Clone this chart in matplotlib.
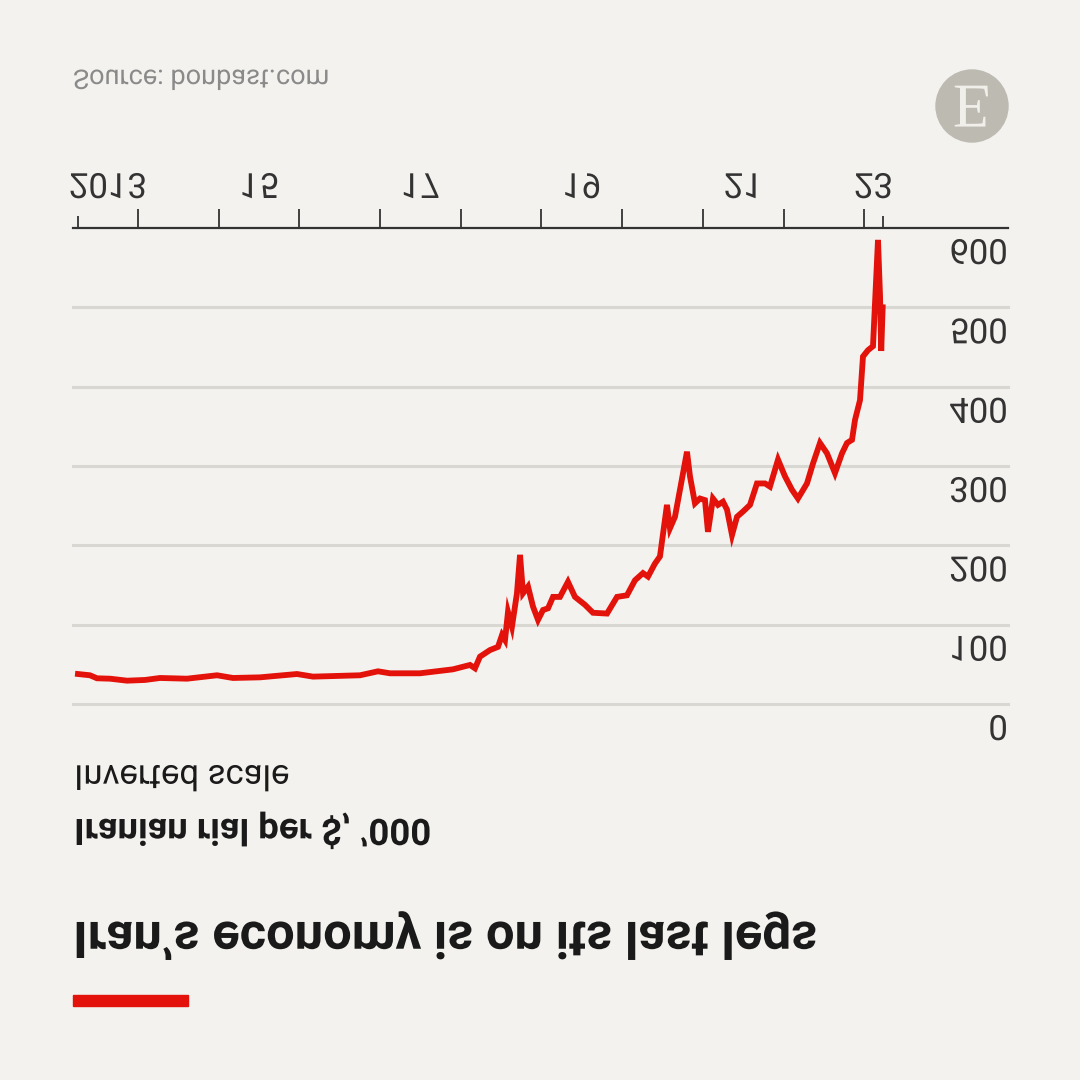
import matplotlib
matplotlib.use("Agg")
import matplotlib.pyplot as plt
from matplotlib import patheffects
from matplotlib.transforms import Affine2D, offset_copy
from matplotlib.patches import Circle, Rectangle

# rial per dollar, '000 (open market)
dates = [2013.256, 2013.405, 2013.492, 2013.653, 2013.864, 2014.087, 2014.273,
         2014.607, 2014.979, 2015.177, 2015.512, 2015.970, 2016.169, 2016.751,
         2016.974, 2017.123, 2017.494, 2017.903, 2018.114, 2018.176, 2018.238,
         2018.362, 2018.461, 2018.511, 2018.548, 2018.585, 2018.634, 2018.696,
         2018.734, 2018.771, 2018.833, 2018.895, 2018.957, 2019.019, 2019.081,
         2019.143, 2019.229, 2019.328, 2019.415, 2019.539, 2019.638, 2019.812,
         2019.936, 2020.059, 2020.159, 2020.258, 2020.320, 2020.406, 2020.468,
         2020.555, 2020.592, 2020.654, 2020.716, 2020.803, 2020.840, 2020.902,
         2020.964, 2021.026, 2021.063, 2021.125, 2021.187, 2021.249, 2021.299,
         2021.361, 2021.423, 2021.497, 2021.584, 2021.670, 2021.770, 2021.831,
         2021.931, 2022.017, 2022.104, 2022.178, 2022.290, 2022.364, 2022.451,
         2022.538, 2022.637, 2022.724, 2022.786, 2022.848, 2022.885, 2022.947,
         2022.984, 2023.046, 2023.108, 2023.170, 2023.195, 2023.210, 2023.228]
rial = [37.8, 36.2, 32.4, 31.9, 29.4, 30.3, 32.8,
        31.9, 36.2, 32.8, 33.6, 37.8, 34.5, 36.2,
        41.2, 38.7, 38.7, 43.7, 49.2, 45.0, 59.7,
        68, 72, 87, 80.7, 116, 97.5, 139.6,
        188, 139.6, 148, 122.7, 106, 118.5, 120.6,
        135, 135, 154, 135, 125, 115, 114,
        135, 137, 156, 165, 160.6, 177, 186,
        251, 221.5, 236, 270, 318, 287, 253,
        259, 257, 217, 259, 251, 255, 245,
        213, 236, 242.6, 251, 278, 278, 274,
        308, 287, 270, 259, 278, 303, 329,
        316, 291, 316, 329, 333, 358, 383,
        438, 446, 451, 585, 515, 445, 500]

grid_vals = [0, 100, 200, 300, 400, 500]
ylabels = ["0", "100", "200", "300", "400", "500", "600"]
year_ticks = list(range(2014, 2024))
label_years = [2013, 2015, 2017, 2019, 2021, 2023]
year_labels = ["2013", "15", "17", "19", "21", "23"]

title = "Iran’s economy is on its last legs"
subtitle = "Iranian rial per $, ’000"
note = "Inverted scale"
source = "Source: bonbast.com"

BG = "#F4F2EE"
RED = "#E3120B"
INK = "#1A1A1A"
GREY = "#333333"


# the picture is upside down, so every glyph is drawn mirrored top to bottom
class Flip(patheffects.AbstractPathEffect):
    def __init__(self, cap=71.1):
        super().__init__()
        self.cap = cap

    def draw_path(self, renderer, gc, tpath, affine, rgbFace=None):
        m = Affine2D().scale(1, -1).translate(0, self.cap)
        renderer.draw_path(gc, tpath, m + affine, rgbFace)


fig = plt.figure(figsize=(10.8, 10.8), dpi=100, facecolor=BG)


def ftext(x, y, s, size, weight="normal", color=INK, ha="left",
          family="Roboto", cap=71.1):
    # x, y in pixels of the 1080 image, y = bottom of the cap box
    return fig.text(x / 1080, 1 - y / 1080, s, fontsize=size,
                    fontweight=weight, color=color, ha=ha, va="baseline",
                    family=family, path_effects=[Flip(cap)])


ax = fig.add_axes([73 / 1080, 1 - 704 / 1080, 935 / 1080, 476 / 1080])
ax.set_facecolor(BG)
ax.set_xlim(2013.1945, 2024.781)
ax.set_ylim(0, 600)

for v in grid_vals:
    ax.axhline(v, color="#D9D7D2", lw=2.2, zorder=1, clip_on=False)

ax.plot(dates, rial, color=RED, lw=4.2, solid_joinstyle="miter",
        zorder=3, clip_on=False)

for s in ["left", "right", "bottom"]:
    ax.spines[s].set_visible(False)
ax.spines["top"].set_color(GREY)
ax.spines["top"].set_linewidth(1.6)
ax.spines["top"].set_zorder(4)

ax.set_yticks([])
ax.xaxis.set_ticks_position("top")
ax.set_xticks(year_ticks)
ax.set_xticks([dates[0], dates[-1]], minor=True)
ax.tick_params(axis="x", which="major", direction="out", length=13.7,
               width=1.3, color=GREY, labeltop=False, labelbottom=False)
ax.tick_params(axis="x", which="minor", direction="out", length=8.6,
               width=1.3, color=GREY, labeltop=False, labelbottom=False)

# year labels sit in the middle of each year's span, above the axis line
xt = offset_copy(ax.get_xaxis_transform(), fig=fig, y=(704 - 198) - 476,
                 units="dots")
for yr, lab in zip(label_years, year_labels):
    lo = max(yr, dates[0])
    hi = min(yr + 1, dates[-1])
    ax.text((lo + hi) / 2, 1, lab, transform=xt, fontsize=25, color=GREY,
            ha="center", va="baseline", family="Roboto",
            path_effects=[Flip()], clip_on=False)

yt = offset_copy(ax.get_yaxis_transform(), fig=fig, y=-36, units="dots")
for v, lab in zip(grid_vals + [600], ylabels):
    ax.text(1.0, v, lab, transform=yt, fontsize=25, color=GREY, ha="right",
            va="baseline", family="Roboto", path_effects=[Flip()],
            clip_on=False)

# headings and source
ftext(73, 958, title, 36.5, weight="bold")
ftext(74, 845, subtitle, 26.3, weight="bold")
ftext(74, 790, note, 25)
ftext(73, 89, source, 19.5, color="#8A8A8A")

fig.patches.append(Rectangle((73 / 1080, 1 - 1006 / 1080), 115 / 1080,
                             11 / 1080, transform=fig.transFigure,
                             color=RED))

# logo
fig.patches.append(Circle((972 / 1080, 1 - 106 / 1080), 36 / 1080,
                          transform=fig.transFigure, color="#BDBAB2"))
ftext(972, 127, "E", 45, color="#F1EFEA", ha="center",
      family="Liberation Serif", cap=66.2)

fig.savefig("out.png", dpi=100, facecolor=BG)
